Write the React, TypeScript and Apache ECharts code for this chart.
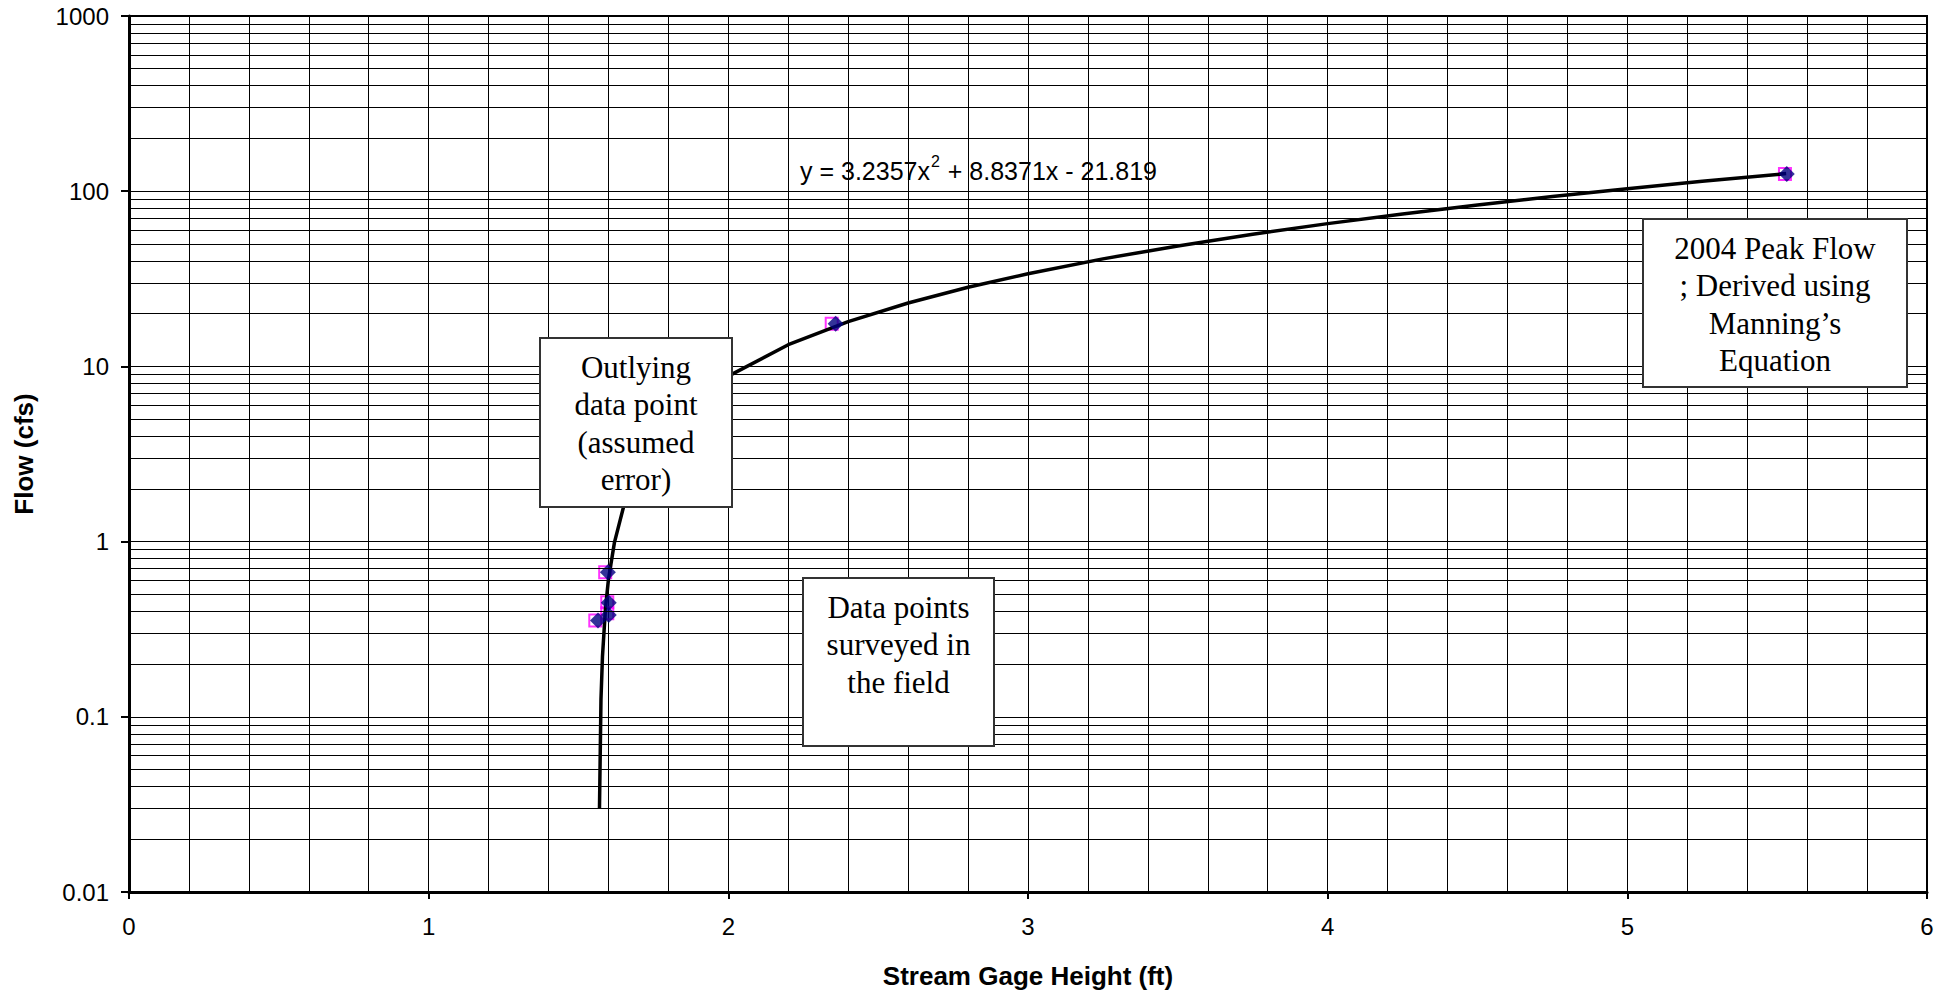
import React, { useEffect, useRef } from 'react';
import * as echarts from 'echarts';

// ---- data ----
const xTicks = [0, 1, 2, 3, 4, 5, 6];
const yTicks = [0.01, 0.1, 1, 10, 100, 1000];

// minor log grid lines (2..9 of each decade)
const minorGridY = [
  0.02, 0.03, 0.04, 0.05, 0.06, 0.07, 0.08, 0.09,
  0.2, 0.3, 0.4, 0.5, 0.6, 0.7, 0.8, 0.9,
  2, 3, 4, 5, 6, 7, 8, 9,
  20, 30, 40, 50, 60, 70, 80, 90,
  200, 300, 400, 500, 600, 700, 800, 900,
];

// field points (navy diamonds)
const pointX = [1.598, 1.601, 1.601, 1.565, 2.358, 5.532];
const pointY = [0.668, 0.448, 0.381, 0.354, 17.5, 125.4];

// companion series (magenta hollow squares)
const squareX = [1.589, 1.596, 1.596, 1.556, 2.345, 5.526];
const squareY = [0.668, 0.45, 0.39, 0.355, 17.5, 125.4];

// polynomial trendline, values
const curveX = [1.57, 1.575, 1.58, 1.59, 1.6, 1.62, 1.65, 1.7, 1.75, 1.8, 1.9, 2.0, 2.2, 2.4, 2.6, 2.8, 3.0, 3.25, 3.5, 3.75, 4.0, 4.25, 4.5, 4.75, 5.0, 5.25, 5.53];
const curveY = [0.03, 0.126, 0.221, 0.415, 0.61, 0.99, 1.57, 2.56, 3.56, 4.57, 6.65, 8.8, 13.3, 18.0, 23.0, 28.3, 33.8, 41.1, 48.7, 56.8, 65.3, 74.2, 83.5, 93.2, 103.3, 113.8, 126.0];

const equationText = ['y = 3.2357x', '2', ' + 8.8371x - 21.819'];
const noteOutlier = 'Outlying\ndata point\n(assumed\nerror)';
const noteField = 'Data points\nsurveyed in\nthe field';
const notePeak = '2004 Peak Flow\n; Derived using\nManning\u2019s\nEquation';

const SANS = '"Liberation Sans", Arial, sans-serif';
const SERIF = '"Liberation Serif", "Times New Roman", serif';

function noteBox(x: number, y: number, w: number, h: number, text: string) {
  return {
    type: 'group',
    z: 100,
    children: [
      {
        type: 'rect',
        z: 100,
        shape: { x, y, width: w, height: h },
        style: { fill: '#fff', stroke: '#333', lineWidth: 2 },
      },
      {
        type: 'text',
        z: 101,
        style: {
          text,
          x: x + w / 2,
          y: y + 11,
          align: 'center',
          verticalAlign: 'top',
          fill: '#000',
          fontFamily: SERIF,
          fontSize: 31,
          lineHeight: 37.3,
        },
      },
    ],
  };
}

export default function App() {
  const ref = useRef<HTMLDivElement>(null);

  useEffect(() => {
    if (!ref.current) return;
    const chart = echarts.init(ref.current, undefined, { renderer: 'svg' });

    const option: any = {
      animation: false,
      backgroundColor: '#fff',
      grid: {
        left: 129,
        right: 29,
        top: 16,
        bottom: 104,
        show: true,
        borderColor: '#000',
        borderWidth: 2,
        backgroundColor: '#fff',
      },
      xAxis: [
        {
          type: 'value',
          min: xTicks[0],
          max: xTicks[xTicks.length - 1],
          interval: 1,
          position: 'bottom',
          name: 'Stream Gage Height (ft)',
          nameLocation: 'middle',
          nameGap: 71,
          nameTextStyle: { fontFamily: SANS, fontWeight: 'bold', fontSize: 26, color: '#000' },
          axisLine: { show: true, onZero: false, lineStyle: { color: '#000', width: 3 } },
          axisTick: { show: true, length: 7, lineStyle: { color: '#000', width: 2 } },
          axisLabel: { fontFamily: SANS, fontSize: 24, color: '#000', margin: 22 },
          splitLine: { show: false },
        },
        {
          type: 'value',
          min: 0,
          max: 6,
          interval: 0.2,
          position: 'top',
          axisLine: { show: false },
          axisTick: { show: false },
          axisLabel: { show: false },
          splitLine: { show: true, lineStyle: { color: '#000', width: 1 } },
        },
      ],
      yAxis: {
        type: 'log',
        logBase: 10,
        min: yTicks[0],
        max: yTicks[yTicks.length - 1],
        name: 'Flow (cfs)',
        nameLocation: 'middle',
        nameGap: 92,
        nameTextStyle: { fontFamily: SANS, fontWeight: 'bold', fontSize: 26, color: '#000' },
        axisLine: { show: true, lineStyle: { color: '#000', width: 3 } },
        axisTick: { show: true, length: 8, lineStyle: { color: '#000', width: 2 } },
        axisLabel: {
          fontFamily: SANS,
          fontSize: 24,
          color: '#000',
          margin: 20,
          formatter: (v: number) => {
            const t = yTicks.find((k) => Math.abs(Math.log10(k) - Math.log10(v)) < 1e-6);
            return t !== undefined ? String(t) : '';
          },
        },
        splitLine: { show: true, lineStyle: { color: '#000', width: 1 } },
      },
      series: [
        {
          name: 'grid',
          type: 'line',
          xAxisIndex: 0,
          data: [[curveX[0], curveY[0]]],
          symbol: 'none',
          lineStyle: { width: 0, opacity: 0 },
          silent: true,
          z: 1,
          markLine: {
            silent: true,
            symbol: ['none', 'none'],
            label: { show: false },
            lineStyle: { color: '#000', width: 1, type: 'solid' },
            emphasis: { disabled: true },
            data: minorGridY.map((v) => ({ yAxis: v })),
          },
        },
        {
          name: 'trend',
          type: 'line',
          xAxisIndex: 0,
          data: curveX.map((x, i) => [x, curveY[i]]),
          symbol: 'none',
          smooth: false,
          lineStyle: { color: '#000', width: 3.5 },
          z: 3,
        },
        {
          name: 'squares',
          type: 'scatter',
          xAxisIndex: 0,
          data: squareX.map((x, i) => [x, squareY[i]]),
          symbol: 'rect',
          symbolSize: 12,
          itemStyle: { color: 'rgba(255,255,255,0)', borderColor: '#ff00ff', borderWidth: 2 },
          z: 2,
        },
        {
          name: 'points',
          type: 'scatter',
          xAxisIndex: 0,
          data: pointX.map((x, i) => [x, pointY[i]]),
          symbol: 'diamond',
          symbolSize: 16,
          itemStyle: { color: '#000080' },
          z: 4,
        },
      ],
      graphic: [
        {
          type: 'text',
          z: 100,
          style: {
            text: `{a|${equationText[0]}}{s|${equationText[1]}}{a|${equationText[2]}}`,
            x: 800,
            y: 168,
            verticalAlign: 'middle',
            fill: '#000',
            rich: {
              a: { fontFamily: SANS, fontSize: 25, color: '#000', lineHeight: 30, verticalAlign: 'bottom' },
              s: { fontFamily: SANS, fontSize: 16, color: '#000', lineHeight: 30, verticalAlign: 'top', padding: [0, 1, 0, 1] },
            },
          },
        },
        noteBox(540, 338, 192, 169, noteOutlier),
        noteBox(803, 578, 191, 168, noteField),
        noteBox(1643, 219, 264, 168, notePeak),
      ],
    };

    chart.setOption(option);
    return () => chart.dispose();
  }, []);

  return (
    <div
      ref={ref}
      style={{ position: 'absolute', left: 0, top: 0, width: 1956, height: 996, background: '#fff' }}
    />
  );
}
